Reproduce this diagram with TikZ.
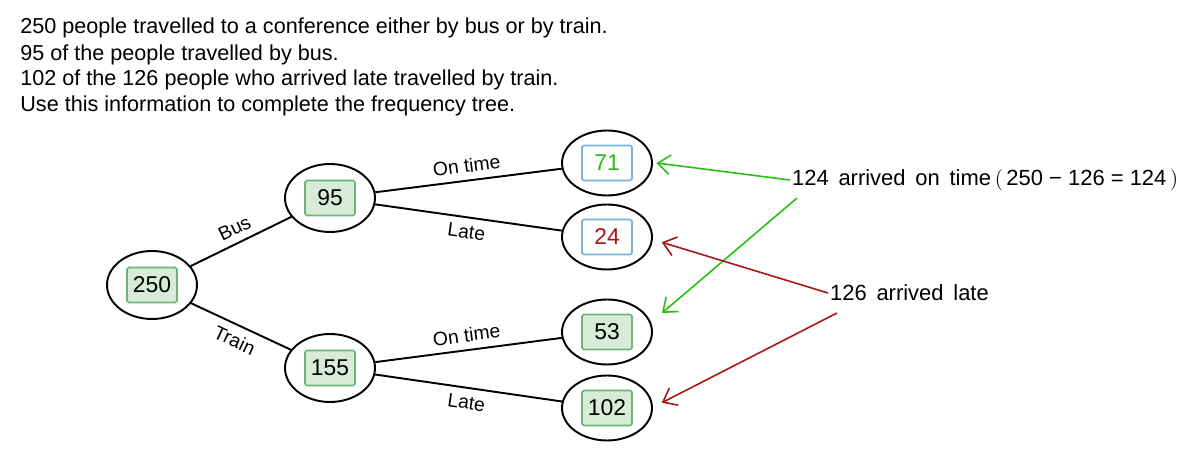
\documentclass[tikz,border=0pt]{standalone}
\usepackage{fontspec}
\setmainfont{Liberation Sans}
\usetikzlibrary{positioning,shapes.geometric,arrows.meta}
\definecolor{boxgreen}{RGB}{214,236,214}
\definecolor{boxedge}{RGB}{110,180,120}
\definecolor{boxblue}{RGB}{120,180,220}
\definecolor{arrgreen}{RGB}{40,190,20}
\definecolor{arrred}{RGB}{170,20,20}
\tikzset{
  freq/.style={draw, ellipse, line width=1.1pt, minimum width=1.8cm, minimum height=1.36cm, inner sep=0pt},
  leaf/.style={freq, minimum height=1.3cm},
  nbox/.style={draw=boxedge, fill=boxgreen, line width=0.9pt, rounded corners=1pt, minimum width=1.0cm, minimum height=0.7cm, font=\fontsize{13}{15}\selectfont},
  wbox/.style={nbox, draw=boxblue, fill=white},
  branch/.style={line width=1.1pt},
  blab/.style={font=\fontsize{11}{13}\selectfont, sloped, inner sep=4pt},
  note/.style={font=\fontsize{12.5}{15}\selectfont, inner sep=1pt},
  ptr/.style={-{Straight Barb[length=7pt,width=11pt]}, line width=0.9pt}
}
\begin{document}
\begin{tikzpicture}[x=0.02cm, y=-0.02cm]
  \useasboundingbox (0,0) rectangle (1199,472);

  % question text
  \node[anchor=west, font=\fontsize{12.3}{14}\selectfont, inner sep=0pt] (q1) at (20,28) {250 people travelled to a conference either by bus or by train.};
  \node[anchor=west, font=\fontsize{12.3}{14}\selectfont, inner sep=0pt] (q2) at (20,55) {95 of the people travelled by bus.};
  \node[anchor=west, font=\fontsize{12.3}{14}\selectfont, inner sep=0pt] (q3) at (20,80) {102 of the 126 people who arrived late travelled by train.};
  \node[anchor=west, font=\fontsize{12.3}{14}\selectfont, inner sep=0pt] (q4) at (20,106) {Use this information to complete the frequency tree.};

  % tree
  \node[freq] (root) at (152,285) {};
  \node[nbox] at (root) {250};
  \node[freq] (bus) at (330,198) {};
  \node[nbox] at (bus) {95};
  \node[freq] (train) at (330,368) {};
  \node[nbox] at (train) {155};
  \node[leaf] (l71) at (607,163) {};
  \node[wbox, text=arrgreen] at (l71) {71};
  \node[leaf] (l24) at (607,237) {};
  \node[wbox, text=arrred] at (l24) {24};
  \node[leaf] (l53) at (607,332) {};
  \node[nbox] at (l53) {53};
  \node[leaf] (l102) at (607,408) {};
  \node[nbox] at (l102) {102};

  \draw[branch] (root) -- (bus) node[blab, midway, above] {Bus};
  \draw[branch] (root) -- (train) node[blab, midway, below] {Train};
  \draw[branch] (bus) -- (l71) node[blab, midway, above] {On time};
  \draw[branch] (bus) -- (l24) node[blab, midway, below] {Late};
  \draw[branch] (train) -- (l53) node[blab, midway, above] {On time};
  \draw[branch] (train) -- (l102) node[blab, midway, below] {Late};

  % notes
  \node[note, anchor=west] (ontime) at (790,180) {124\, arrived\, on\, time\,$($\,250 − 126 = 124\,$)$};
  \node[note, anchor=west] (late) at (828,293) {126\, arrived\, late};
  \coordinate (g2) at (797,198);
  \coordinate (r2) at (837,313);

  \draw[ptr, arrgreen] (ontime.west) -- ([xshift=2pt]l71.east);
  \draw[ptr, arrgreen] (g2) -- (662,313);
  \draw[ptr, arrred] (late.west) -- ([xshift=5pt,yshift=-3pt]l24.east);
  \draw[ptr, arrred] (r2) -- ([xshift=5pt,yshift=3pt]l102.east);
\end{tikzpicture}
\end{document}
